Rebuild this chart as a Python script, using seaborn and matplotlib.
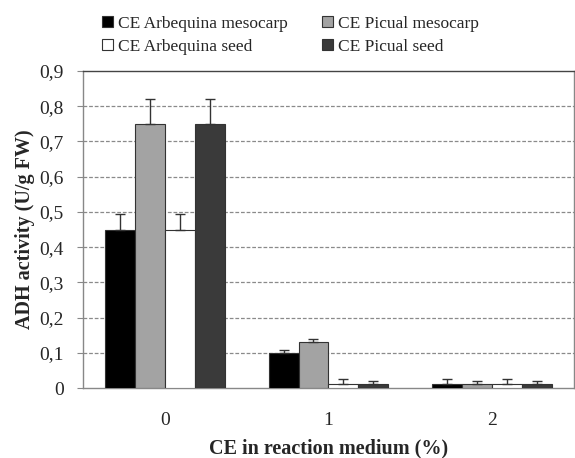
import matplotlib
matplotlib.use("Agg")
import matplotlib.pyplot as plt
import seaborn as sns
import pandas as pd
import numpy as np
from matplotlib.patches import Patch

categories = ["0", "1", "2"]
series = ["CE Arbequina mesocarp", "CE Picual mesocarp", "CE Arbequina seed", "CE Picual seed"]
arbequina_mesocarp = [0.45, 0.10, 0.01]
picual_mesocarp = [0.75, 0.13, 0.01]
arbequina_seed = [0.45, 0.01, 0.01]
picual_seed = [0.75, 0.01, 0.01]
arbequina_mesocarp_err = [0.045, 0.008, 0.015]
picual_mesocarp_err = [0.07, 0.01, 0.01]
arbequina_seed_err = [0.045, 0.015, 0.015]
picual_seed_err = [0.07, 0.01, 0.01]
yticks = [0, 0.1, 0.2, 0.3, 0.4, 0.5, 0.6, 0.7, 0.8, 0.9]
ytick_labels = ["0", "0,1", "0,2", "0,3", "0,4", "0,5", "0,6", "0,7", "0,8", "0,9"]

colors = ["#000000", "#a3a3a3", "#ffffff", "#3a3a3a"]
values = [arbequina_mesocarp, picual_mesocarp, arbequina_seed, picual_seed]
errors = [arbequina_mesocarp_err, picual_mesocarp_err, arbequina_seed_err, picual_seed_err]

rows = []
for s, vals, errs in zip(series, values, errors):
    for c, v, e in zip(categories, vals, errs):
        rows.append({"cat": c, "series": s, "value": v, "err": e})
df = pd.DataFrame(rows)

sns.set_style("white")
plt.rcParams["font.family"] = ["Liberation Serif", "DejaVu Serif"]

fig = plt.figure(figsize=(5.75, 4.58), dpi=100)
ax = fig.add_axes([0.1443, 0.1528, 0.998 - 0.1443, 0.845 - 0.1528])

sns.barplot(data=df, x="cat", y="value", hue="series", order=categories,
            hue_order=series, palette=colors, errorbar=None, width=0.73,
            edgecolor="#333333", linewidth=0.8, ax=ax, legend=False, zorder=3)

# error bars (upper only) placed at the bars' own positions
for i, s in enumerate(series):
    cont = ax.containers[i]
    for j, patch in enumerate(cont.patches):
        xc = patch.get_x() + patch.get_width() / 2
        h = patch.get_height()
        ax.errorbar([xc], [h], yerr=[[0], [errors[i][j]]], fmt="none",
                    ecolor="#333333", elinewidth=1.0, capsize=3.5, capthick=1.0, zorder=4)

ax.set_xlim(-0.5, 2.5)
ax.set_ylim(0, 0.9)
ax.set_yticks(yticks)
ax.set_yticklabels(ytick_labels, fontsize=14)
ax.set_xticks([0, 1, 2])
ax.set_xticklabels(categories, fontsize=14)
for yv in yticks[1:-1]:
    ax.axhline(yv, color="#8a8a8a", linestyle=(0, (3, 1.5)), linewidth=0.9, zorder=1)

ax.tick_params(axis="y", which="major", direction="out", length=4, width=0.8, color="#888888", pad=10, left=True)
ax.tick_params(axis="x", which="major", length=0, pad=17)
ax.set_xticks([0.5, 1.5], minor=True)
ax.tick_params(axis="x", which="minor", direction="out", length=4, width=0.8, color="#888888")

for sp in ["left", "bottom"]:
    ax.spines[sp].set_color("#888888")
    ax.spines[sp].set_linewidth(1.0)
ax.spines["top"].set_color("#444444")
ax.spines["top"].set_linewidth(1.0)
ax.spines["right"].set_color("#888888")
ax.spines["right"].set_linewidth(1.0)

ax.set_ylabel("ADH activity (U/g FW)", fontsize=14.5, fontweight="bold", labelpad=3)
ax.set_xlabel("CE in reaction medium (%)", fontsize=14.5, fontweight="bold", labelpad=7)

handles = [Patch(facecolor=colors[k], edgecolor="#333333", linewidth=0.8) for k in range(4)]
order = [0, 2, 1, 3]
fig.legend([handles[k] for k in order], [series[k] for k in order], ncol=2,
           loc="upper left", bbox_to_anchor=(0.166, 0.98), frameon=False,
           fontsize=12.5, handlelength=0.6, handleheight=0.6, handletextpad=0.3,
           columnspacing=2.0, labelspacing=0.4, borderaxespad=0)

fig.savefig("out.png", dpi=100)
